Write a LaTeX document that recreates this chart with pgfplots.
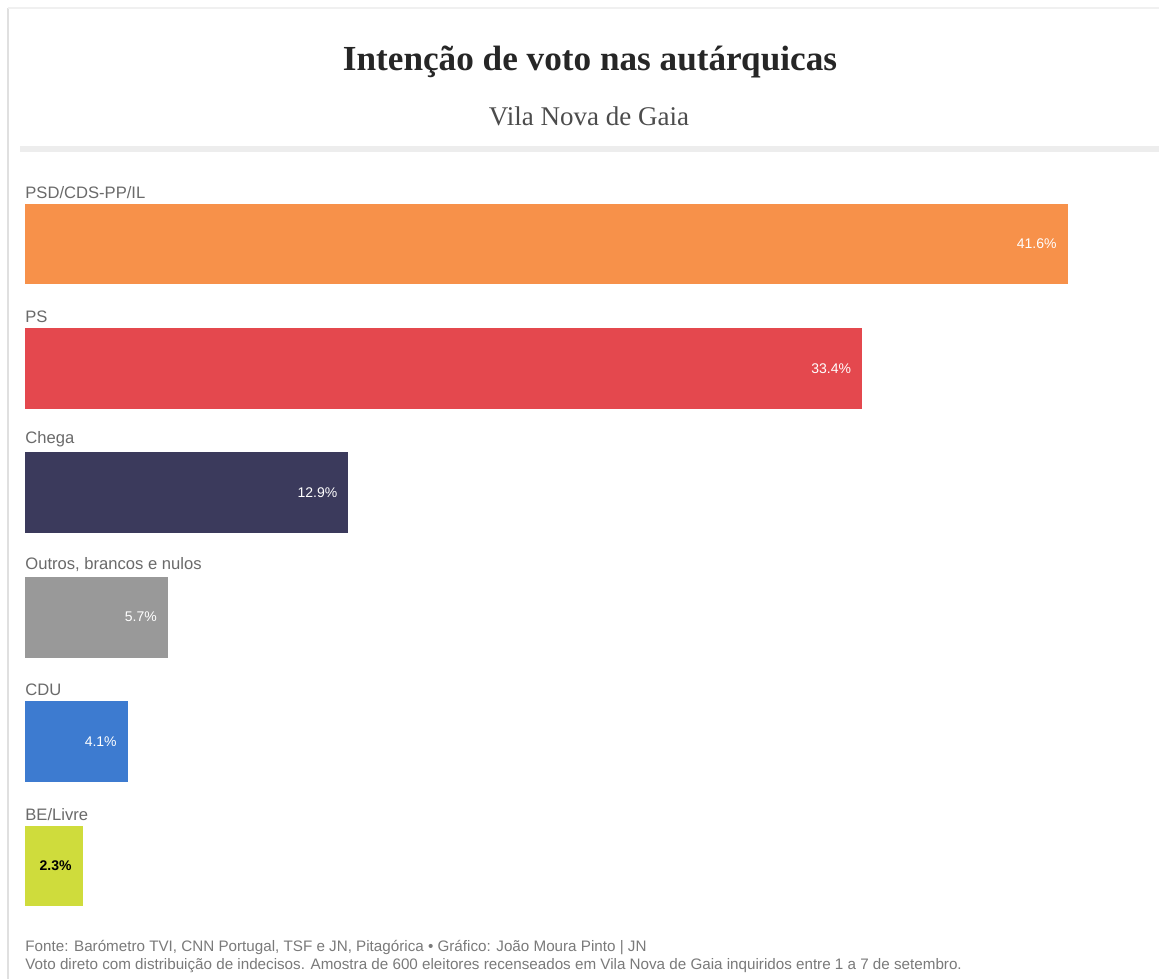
\documentclass[border=0pt]{standalone}
\usepackage{pgfplots}
\pgfplotsset{compat=1.18}
\usepackage{fontspec}
\setmainfont{Liberation Serif}
\setsansfont{Liberation Sans}

\definecolor{cPSD}{HTML}{F7914A}
\definecolor{cPS}{HTML}{E4484E}
\definecolor{cCH}{HTML}{3B3A5C}
\definecolor{cOUT}{HTML}{999999}
\definecolor{cCDU}{HTML}{3D7BD0}
\definecolor{cBE}{HTML}{CFDC3C}
\definecolor{footgray}{HTML}{7A7A7A}
\definecolor{labgray}{HTML}{6A6A6A}

\begin{document}
\begin{tikzpicture}
% page frame in pixel units (origin top left)
\begin{scope}[x=0.5pt,y=-0.5pt]
  \fill[white] (0,0) rectangle (1159,979);
  \useasboundingbox (0,0) rectangle (1159,979);
  \draw[black!12, line width=1pt] (8,8) -- (8,979);
  \draw[black!6, line width=1pt] (8,8) -- (1159,8);
  \fill[black!7] (20,146) rectangle (1159,152);
  \node[font=\bfseries\fontsize{17.6}{19}\selectfont, text=black!85] at (590,62)
    {Intenção de voto nas autárquicas};
  \node[font=\fontsize{13.5}{15}\selectfont, text=black!70] at (589,116)
    {Vila Nova de Gaia};
  \node[anchor=west, inner sep=0pt, font=\sffamily\fontsize{7.6}{8}\selectfont, text=footgray] at (25,947)
    {Fonte: Barómetro TVI, CNN Portugal, TSF e JN, Pitagórica • Gráfico: João Moura Pinto | JN};
  \node[anchor=west, inner sep=0pt, font=\sffamily\fontsize{7.6}{8}\selectfont, text=footgray] at (25,966)
    {Voto direto com distribuição de indecisos. Amostra de 600 eleitores recenseados em Vila Nova de Gaia inquiridos entre 1 a 7 de setembro.};
\end{scope}

\begin{axis}[
    at={(12.5pt,-101.5pt)}, anchor=north west,
    scale only axis, width=563.9pt, height=352pt,
    xbar, bar width=0.65, bar shift=0pt,
    xmin=0, xmax=45, ymin=-0.33, ymax=5.33, y dir=reverse,
    axis lines=none, ticks=none, clip=false,
    point meta=x,
    /pgf/number format/assume math mode=true,
    nodes near coords={\pgfmathprintnumber[fixed,precision=1,fixed zerofill]{\pgfplotspointmeta}\%},
    nodes near coords style={anchor=east, xshift=-2pt, font=\sffamily\fontsize{7}{8}\selectfont, text=white},
    every axis plot/.append style={draw=none},
]
\addplot[fill=cPSD] coordinates {(41.6,0)};
\addplot[fill=cPS] coordinates {(33.4,1)};
\addplot[fill=cCH] coordinates {(12.9,2)};
\addplot[fill=cOUT] coordinates {(5.7,3)};
\addplot[fill=cCDU] coordinates {(4.1,4)};
\addplot[fill=cBE, nodes near coords style={text=black, font=\sffamily\bfseries\fontsize{7}{8}\selectfont}] coordinates {(2.3,5)};

\foreach \lab [count=\i from 0] in {PSD/CDS-PP/IL, PS, Chega, {Outros, brancos e nulos}, CDU, BE/Livre}{
  \edef\temp{\noexpand\node[anchor=south west, inner xsep=0pt, inner ysep=2pt, font=\noexpand\sffamily\noexpand\fontsize{8.3}{9}\noexpand\selectfont, text=labgray] at (axis cs:0,\i-0.33) {\lab};}
  \temp
}
\end{axis}
\end{tikzpicture}
\end{document}
